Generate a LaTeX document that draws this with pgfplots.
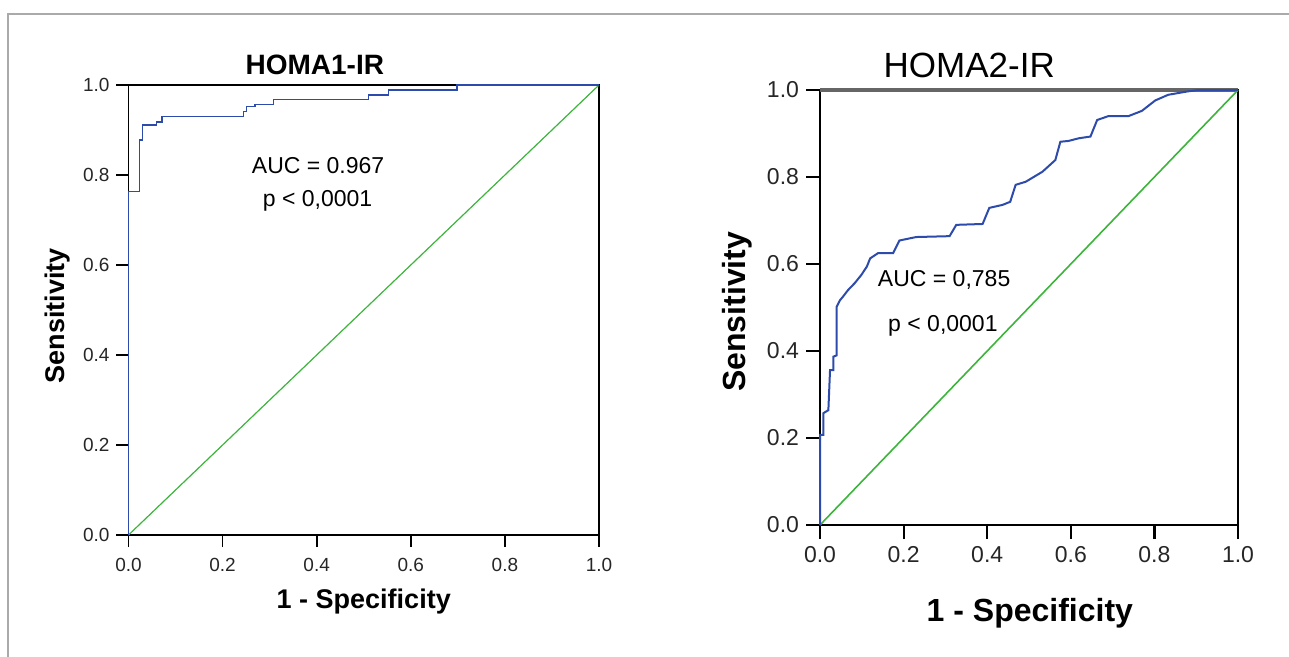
\documentclass[border=0pt]{standalone}
\usepackage{fontspec}
\setmainfont{Liberation Sans}
\usepackage{pgfplots}
\pgfplotsset{compat=1.18}
\definecolor{roc}{RGB}{45,75,170}
\definecolor{diag}{RGB}{60,180,60}
\definecolor{framegray}{RGB}{170,170,170}

\pgfplotsset{
  rocaxis/.style={
    scale only axis,
    xmin=0, xmax=1, ymin=0, ymax=1,
    xtick={0,0.2,0.4,0.6,0.8,1}, ytick={0,0.2,0.4,0.6,0.8,1},
    xticklabels={0.0,0.2,0.4,0.6,0.8,1.0},
    yticklabels={0.0,0.2,0.4,0.6,0.8,1.0},
    tick align=outside, tick pos=left,
    axis line style={black},
    clip=false,
  }
}

\begin{document}
\begin{tikzpicture}
\path[use as bounding box] (0,0) rectangle (644.5pt,-328.5pt);
% outer frame
\draw[framegray, line width=1pt] (4pt,-330pt) -- (4pt,-7pt) -- (646pt,-7pt);

% ---- HOMA1-IR
\begin{axis}[rocaxis,
    at={(64.25pt,-267.5pt)}, anchor=south west,
    width=235.25pt, height=225pt,
    axis line style={line width=0.8pt},
    major tick length=6pt,
    every tick/.style={black, line width=0.8pt},
    tick label style={font=\fontsize{9.5}{11}\selectfont, text=black!85},
    xticklabel style={yshift=-2pt},
    xlabel={\bfseries 1 - Specificity},
    ylabel={\bfseries Sensitivity},
    label style={font=\fontsize{13.5}{15}\selectfont},
    x label style={at={(axis description cs:0.5,-0.147)}, anchor=center},
    y label style={at={(axis description cs:-0.15,0.487)}, anchor=center, rotate=0},
  ]
  \addplot[diag, line width=0.6pt] coordinates {(0,0) (1,1)};
  \addplot[roc, line width=0.7pt] coordinates {
    (0,0) (0,0.763) (0.023,0.763) (0.023,0.878) (0.030,0.878) (0.030,0.911)
    (0.060,0.911) (0.060,0.918) (0.071,0.918) (0.071,0.930) (0.244,0.930)
    (0.244,0.941) (0.251,0.941) (0.251,0.952) (0.269,0.952) (0.269,0.957)
    (0.308,0.957) (0.308,0.968) (0.510,0.968) (0.510,0.978) (0.552,0.978)
    (0.552,0.989) (0.698,0.989) (0.698,1) (1,1)};
  \node[font=\bfseries\fontsize{14}{16}\selectfont] at (axis description cs:0.396,1.044) {HOMA1-IR};
  \node[anchor=base, font=\fontsize{11.5}{13}\selectfont] at (axis description cs:0.403,0.804) {AUC = 0.967};
  \node[anchor=base, font=\fontsize{11.5}{13}\selectfont] at (axis description cs:0.402,0.730) {p < 0,0001};
\end{axis}

% ---- HOMA2-IR
\begin{axis}[rocaxis,
    at={(410pt,-262.5pt)}, anchor=south west,
    width=209pt, height=217.5pt,
    axis line style={line width=1.1pt},
    major tick length=7pt,
    every tick/.style={black, line width=1.1pt},
    tick label style={font=\fontsize{11.5}{13}\selectfont, text=black!85},
    xlabel={\bfseries 1 - Specificity},
    ylabel={\bfseries Sensitivity},
    label style={font=\fontsize{16}{18}\selectfont},
    x label style={at={(axis description cs:0.502,-0.202)}, anchor=center},
    y label style={at={(axis description cs:-0.199,0.49)}, anchor=center, rotate=0},
  ]
  \draw[black!60, line width=1.6pt] (axis cs:0,1) -- (axis cs:1,1);
  \addplot[diag, line width=0.8pt] coordinates {(0,0) (1,1)};
  \addplot[roc, line width=1pt] coordinates {
    (0,0) (0,0.207) (0.008,0.207) (0.008,0.257) (0.020,0.264) (0.024,0.356)
    (0.032,0.356) (0.032,0.387) (0.040,0.390) (0.040,0.502) (0.048,0.517)
    (0.055,0.525) (0.067,0.540) (0.083,0.556) (0.099,0.575) (0.112,0.594)
    (0.120,0.613) (0.139,0.625) (0.175,0.625) (0.190,0.654) (0.230,0.662)
    (0.310,0.664) (0.326,0.690) (0.389,0.692) (0.405,0.729) (0.437,0.736)
    (0.455,0.743) (0.468,0.782) (0.492,0.789) (0.532,0.812) (0.563,0.839)
    (0.575,0.881) (0.595,0.883) (0.619,0.889) (0.647,0.893) (0.663,0.931)
    (0.690,0.940) (0.738,0.940) (0.770,0.952) (0.802,0.976) (0.833,0.989)
    (0.881,0.997) (0.905,1) (1,1)};
  \node[font=\fontsize{17.5}{20}\selectfont] at (axis description cs:0.357,1.056) {HOMA2-IR};
  \node[anchor=base, font=\fontsize{11.5}{13}\selectfont] at (axis description cs:0.297,0.549) {AUC = 0,785};
  \node[anchor=base, font=\fontsize{11.5}{13}\selectfont] at (axis description cs:0.294,0.444) {p < 0,0001};
\end{axis}
\end{tikzpicture}
\end{document}
